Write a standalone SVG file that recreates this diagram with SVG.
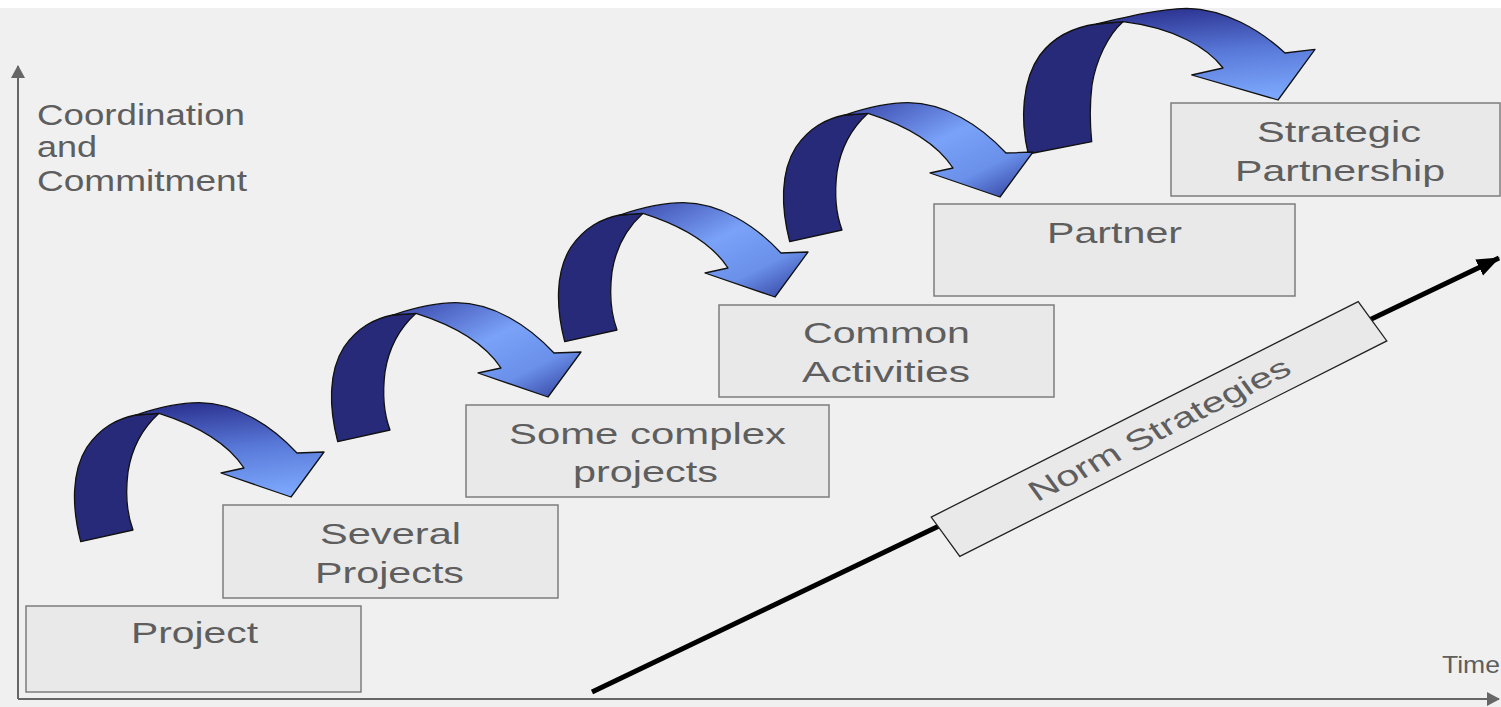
<svg xmlns="http://www.w3.org/2000/svg" xmlns:xlink="http://www.w3.org/1999/xlink" width="1501" height="707" viewBox="0 0 1501 707">
<style>
.box{fill:#e9e9e9;stroke:#7c7c7c;stroke-width:1.5}
.lbl{font-family:"Liberation Sans",Arial,sans-serif;font-size:29px;fill:#5e5e5e}
.axis{stroke:#666;stroke-width:2;fill:none}
.back{fill:#262a78;stroke:#111;stroke-width:1.3;stroke-linejoin:round}
.frontA{fill:url(#gA);stroke:#111;stroke-width:1.3;stroke-linejoin:round}
.frontB{fill:url(#gB);stroke:#111;stroke-width:1.3;stroke-linejoin:round}
</style>
<defs>
<linearGradient id="gA" x1="0.3" y1="0" x2="0.5" y2="1">
<stop offset="0" stop-color="#2c3290"/>
<stop offset="0.5" stop-color="#5878d8"/>
<stop offset="1" stop-color="#7ba6fb"/>
</linearGradient>
<linearGradient id="gB" x1="0" y1="0" x2="1" y2="1">
<stop offset="0" stop-color="#3642a6"/>
<stop offset="0.45" stop-color="#7aa2f8"/>
<stop offset="0.72" stop-color="#6a90ea"/>
<stop offset="1" stop-color="#2c3996"/>
</linearGradient>
<marker id="axHead" markerUnits="userSpaceOnUse" markerWidth="14" markerHeight="14" refX="12" refY="7" orient="auto">
<path d="M0,0 L13,7 L0,14 Z" fill="#666"/>
</marker>
<marker id="blkHead" markerUnits="userSpaceOnUse" markerWidth="24" markerHeight="20" refX="22" refY="10" orient="auto">
<path d="M0,1 L23,10 L0,19 Z" fill="#000"/>
</marker>
<path id="backA" d="M21.7,151.7 C13,118 12,82 28,57 C42,37 58,29 76.7,25 L100,23.3 C86,36 73,56 69,82 C66,106 68,124 74,140 Z"/>
<path id="frontPathA" d="M76.7,25 C98,18 120,12.7 140,12.7 C177,13 212,35 238,63 L265,62 L232,107 L162,83 L185,78 C170,55 140,36 100,23.3 Z"/>
</defs>

<rect x="0" y="0" width="1501" height="707" fill="#ffffff"/>
<rect x="0" y="8" width="1501" height="699" fill="#f0f0f0"/>

<g id="axes">
<path class="axis" d="M18,699 L18,66" marker-end="url(#axHead)"/>
<path class="axis" d="M18,699 L1499,699" marker-end="url(#axHead)"/>
<text class="lbl" x="37" y="125" textLength="208" lengthAdjust="spacingAndGlyphs">Coordination</text>
<text class="lbl" x="37" y="157" textLength="60" lengthAdjust="spacingAndGlyphs">and</text>
<text class="lbl" x="37" y="191" textLength="210" lengthAdjust="spacingAndGlyphs">Commitment</text>
<text class="lbl" x="1442" y="673" style="font-size:24px" textLength="58" lengthAdjust="spacingAndGlyphs">Time</text>
</g>

<g id="connectors">
<line x1="592" y1="692" x2="1499" y2="258" stroke="#000" stroke-width="5" marker-end="url(#blkHead)"/>
<g id="arrow1" transform="translate(59,390)">
<use xlink:href="#backA" class="back"/>
<use xlink:href="#frontPathA" class="frontA"/>
</g>
<g id="arrow2" transform="translate(316,290)">
<use xlink:href="#backA" class="back"/>
<use xlink:href="#frontPathA" class="frontB"/>
</g>
<g id="arrow3" transform="translate(543,190)">
<use xlink:href="#backA" class="back"/>
<use xlink:href="#frontPathA" class="frontB"/>
</g>
<g id="arrow5" transform="translate(1010,0)">
<path class="back" d="M18.3,154 C10,120 12,80 30,55 C45,35 65,27 86.7,24 L113,21.7 C98,35 86,60 82,85 C79,110 80,125 81.7,141.7 Z"/>
<path class="frontA" d="M86.7,24 C120,16 150,9 176.7,8.3 C215,9 250,30 275,53 L305,49.3 L268,100 L181.7,75 L213,68 C198,48 165,28 113,21.7 Z"/>
</g>
<g id="arrow4" transform="translate(768,90)">
<use xlink:href="#backA" class="back"/>
<use xlink:href="#frontPathA" class="frontB"/>
</g>
</g>

<g id="project">
<rect class="box" x="26" y="606" width="335" height="86"/>
<text class="lbl" x="131" y="643" textLength="127" lengthAdjust="spacingAndGlyphs">Project</text>
</g>
<g id="several-projects">
<rect class="box" x="223" y="505" width="335" height="93"/>
<text class="lbl" x="320" y="544" textLength="141" lengthAdjust="spacingAndGlyphs">Several</text>
<text class="lbl" x="315" y="583" textLength="149" lengthAdjust="spacingAndGlyphs">Projects</text>
</g>
<g id="some-complex-projects">
<rect class="box" x="466" y="405" width="363" height="92"/>
<text class="lbl" x="509" y="444" textLength="277" lengthAdjust="spacingAndGlyphs">Some complex</text>
<text class="lbl" x="573" y="482" textLength="145" lengthAdjust="spacingAndGlyphs">projects</text>
</g>
<g id="common-activities">
<rect class="box" x="719" y="305" width="335" height="92"/>
<text class="lbl" x="803" y="343" textLength="167" lengthAdjust="spacingAndGlyphs">Common</text>
<text class="lbl" x="802" y="382" textLength="168" lengthAdjust="spacingAndGlyphs">Activities</text>
</g>
<g id="partner">
<rect class="box" x="934" y="204" width="361" height="92"/>
<text class="lbl" x="1047" y="243" textLength="135" lengthAdjust="spacingAndGlyphs">Partner</text>
</g>
<g id="strategic-partnership">
<rect class="box" x="1171" y="103" width="329" height="93"/>
<text class="lbl" x="1257" y="142" textLength="164" lengthAdjust="spacingAndGlyphs">Strategic</text>
<text class="lbl" x="1235" y="181" textLength="210" lengthAdjust="spacingAndGlyphs">Partnership</text>
</g>
<g id="norm-strategies" transform="translate(1159,429) scale(1.2,1) rotate(-31.2)">
<rect x="-208" y="-23" width="416" height="46" fill="#e9e9e9" stroke="#222" stroke-width="1.3" vector-effect="non-scaling-stroke"/>
<text class="lbl" x="0" y="10" text-anchor="middle" style="font-size:28px" textLength="250" lengthAdjust="spacingAndGlyphs">Norm Strategies</text>
</g>
</svg>
